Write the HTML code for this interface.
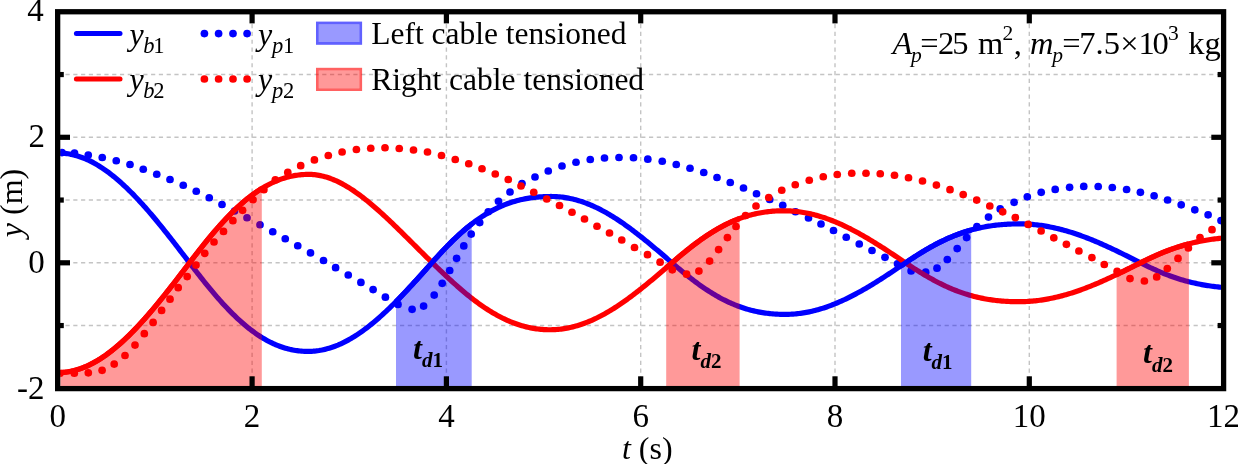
<!DOCTYPE html>
<html><head><meta charset="utf-8"><style>
html,body{margin:0;padding:0;background:#fff;}
svg{display:block;will-change:transform;}
text{font-family:"Liberation Serif",serif;}
</style></head><body>
<svg width="1238" height="464" viewBox="0 0 1238 464">
<defs><clipPath id="pa"><rect x="60.3" y="14.4" width="1160.8" height="371.5"/></clipPath></defs>
<rect width="1238" height="464" fill="#fff"/>
<g stroke="#c4c4c4" stroke-width="1.4" fill="none"><g stroke-dasharray="4.2 3.58" stroke-dashoffset="2.6"><line x1="60.3" y1="74.55" x2="1221" y2="74.55"/><line x1="60.3" y1="137.30" x2="1221" y2="137.30"/><line x1="60.3" y1="200.05" x2="1221" y2="200.05"/><line x1="60.3" y1="262.80" x2="1221" y2="262.80"/><line x1="60.3" y1="325.55" x2="1221" y2="325.55"/></g><g stroke-dasharray="4.2 3.63" stroke-dashoffset="6.16"><line x1="252.10" y1="14.5" x2="252.10" y2="385.8"/><line x1="446.40" y1="14.5" x2="446.40" y2="385.8"/><line x1="640.70" y1="14.5" x2="640.70" y2="385.8"/><line x1="835.00" y1="14.5" x2="835.00" y2="385.8"/><line x1="1029.30" y1="14.5" x2="1029.30" y2="385.8"/></g></g>
<g clip-path="url(#pa)" fill="none" stroke-width="5.2" stroke-linejoin="round">
<path d="M57.80,152.99 L59.26,153.00 L60.72,153.05 L62.18,153.14 L63.64,153.25 L65.10,153.40 L66.55,153.59 L68.01,153.80 L69.47,154.05 L70.93,154.33 L72.39,154.65 L73.85,154.99 L75.31,155.37 L76.77,155.78 L78.23,156.23 L79.69,156.71 L81.15,157.21 L82.60,157.76 L84.06,158.33 L85.52,158.93 L86.98,159.57 L88.44,160.24 L89.90,160.93 L91.36,161.66 L92.82,162.42 L94.28,163.21 L95.74,164.03 L97.19,164.88 L98.65,165.76 L100.11,166.67 L101.57,167.61 L103.03,168.58 L104.49,169.57 L105.95,170.59 L107.41,171.65 L108.87,172.72 L110.33,173.83 L111.79,174.96 L113.24,176.12 L114.70,177.31 L116.16,178.52 L117.62,179.76 L119.08,181.02 L120.54,182.31 L122.00,183.62 L123.46,184.96 L124.92,186.32 L126.38,187.70 L127.84,189.10 L129.29,190.53 L130.75,191.98 L132.21,193.45 L133.67,194.94 L135.13,196.46 L136.59,197.99 L138.05,199.54 L139.51,201.11 L140.97,202.70 L142.43,204.31 L143.89,205.93 L145.34,207.58 L146.80,209.24 L148.26,210.91 L149.72,212.60 L151.18,214.31 L152.64,216.03 L154.10,217.77 L155.56,219.52 L157.02,221.28 L158.48,223.05 L159.94,224.84 L161.39,226.64 L162.85,228.45 L164.31,230.27 L165.77,232.10 L167.23,233.94 L168.69,235.78 L170.15,237.64 L171.61,239.50 L173.07,241.37 L174.53,243.25 L175.98,245.13 L177.44,247.02 L178.90,248.92 L180.36,250.81 L181.82,252.71 L183.28,254.62 L184.74,256.52 L186.20,258.43 L187.66,260.34 L189.12,262.25 L190.58,264.16 L192.03,266.06 L193.49,267.96 L194.95,269.85 L196.41,271.74 L197.87,273.61 L199.33,275.47 L200.79,277.33 L202.25,279.17 L203.71,281.00 L205.17,282.82 L206.63,284.62 L208.08,286.41 L209.54,288.19 L211.00,289.95 L212.46,291.69 L213.92,293.42 L215.38,295.12 L216.84,296.82 L218.30,298.49 L219.76,300.14 L221.22,301.77 L222.68,303.38 L224.13,304.98 L225.59,306.54 L227.05,308.09 L228.51,309.62 L229.97,311.12 L231.43,312.60 L232.89,314.05 L234.35,315.48 L235.81,316.89 L237.27,318.27 L238.73,319.62 L240.18,320.95 L241.64,322.25 L243.10,323.53 L244.56,324.78 L246.02,326.00 L247.48,327.20 L248.94,328.36 L250.40,329.50 L251.86,330.62 L253.32,331.70 L254.77,332.76 L256.23,333.78 L257.69,334.78 L259.15,335.75 L260.61,336.69 L262.07,337.60 L263.53,338.48 L264.99,339.33 L266.45,340.16 L267.91,340.95 L269.37,341.71 L270.82,342.45 L272.28,343.15 L273.74,343.83 L275.20,344.48 L276.66,345.09 L278.12,345.68 L279.58,346.24 L281.04,346.77 L282.50,347.27 L283.96,347.74 L285.42,348.18 L286.87,348.59 L288.33,348.97 L289.79,349.33 L291.25,349.65 L292.71,349.95 L294.17,350.22 L295.63,350.46 L297.09,350.67 L298.55,350.86 L300.01,351.02 L301.47,351.15 L302.92,351.25 L304.38,351.33 L305.84,351.38 L307.30,351.40 L308.76,351.40 L310.22,351.36 L311.68,351.30 L313.14,351.21 L314.60,351.08 L316.06,350.93 L317.52,350.74 L318.97,350.53 L320.43,350.28 L321.89,350.01 L323.35,349.70 L324.81,349.37 L326.27,349.00 L327.73,348.61 L329.19,348.19 L330.65,347.74 L332.11,347.26 L333.56,346.75 L335.02,346.21 L336.48,345.64 L337.94,345.05 L339.40,344.42 L340.86,343.77 L342.32,343.09 L343.78,342.39 L345.24,341.65 L346.70,340.89 L348.16,340.10 L349.61,339.29 L351.07,338.45 L352.53,337.58 L353.99,336.69 L355.45,335.78 L356.91,334.84 L358.37,333.87 L359.83,332.88 L361.29,331.86 L362.75,330.83 L364.21,329.77 L365.66,328.68 L367.12,327.58 L368.58,326.45 L370.04,325.30 L371.50,324.12 L372.96,322.93 L374.42,321.72 L375.88,320.48 L377.34,319.23 L378.80,317.96 L380.26,316.67 L381.71,315.36 L383.17,314.03 L384.63,312.68 L386.09,311.32 L387.55,309.94 L389.01,308.55 L390.47,307.14 L391.93,305.71 L393.39,304.27 L394.85,302.82 L396.31,301.35 L397.76,299.87 L399.22,298.37 L400.68,296.87 L402.14,295.35 L403.60,293.82 L405.06,292.28 L406.52,290.73 L407.98,289.17 L409.44,287.60 L410.90,286.03 L412.35,284.44 L413.81,282.85 L415.27,281.25 L416.73,279.64 L418.19,278.03 L419.65,276.42 L421.11,274.80 L422.57,273.17 L424.03,271.54 L425.49,269.91 L426.95,268.28 L428.40,266.64 L429.86,265.00 L431.32,263.37 L432.78,261.73 L434.24,260.10 L435.70,258.49 L437.16,256.88 L438.62,255.29 L440.08,253.71 L441.54,252.14 L443.00,250.59 L444.45,249.06 L445.91,247.54 L447.37,246.04 L448.83,244.55 L450.29,243.09 L451.75,241.64 L453.21,240.21 L454.67,238.81 L456.13,237.42 L457.59,236.05 L459.05,234.71 L460.50,233.39 L461.96,232.09 L463.42,230.81 L464.88,229.56 L466.34,228.32 L467.80,227.12 L469.26,225.93 L470.72,224.77 L472.18,223.64 L473.64,222.53 L475.10,221.44 L476.55,220.38 L478.01,219.34 L479.47,218.33 L480.93,217.35 L482.39,216.38 L483.85,215.45 L485.31,214.53 L486.77,213.65 L488.23,212.79 L489.69,211.95 L491.14,211.14 L492.60,210.35 L494.06,209.59 L495.52,208.85 L496.98,208.13 L498.44,207.44 L499.90,206.78 L501.36,206.13 L502.82,205.52 L504.28,204.92 L505.74,204.35 L507.19,203.80 L508.65,203.27 L510.11,202.77 L511.57,202.29 L513.03,201.83 L514.49,201.39 L515.95,200.97 L517.41,200.57 L518.87,200.20 L520.33,199.84 L521.79,199.51 L523.24,199.19 L524.70,198.90 L526.16,198.62 L527.62,198.36 L529.08,198.12 L530.54,197.90 L532.00,197.69 L533.46,197.51 L534.92,197.34 L536.38,197.18 L537.84,197.04 L539.29,196.92 L540.75,196.82 L542.21,196.72 L543.67,196.65 L545.13,196.59 L546.59,196.54 L548.05,196.50 L549.51,196.48 L550.97,196.47 L552.43,196.48 L553.89,196.51 L555.34,196.57 L556.80,196.65 L558.26,196.75 L559.72,196.88 L561.18,197.03 L562.64,197.20 L564.10,197.40 L565.56,197.62 L567.02,197.87 L568.48,198.14 L569.93,198.43 L571.39,198.74 L572.85,199.08 L574.31,199.44 L575.77,199.83 L577.23,200.23 L578.69,200.66 L580.15,201.11 L581.61,201.59 L583.07,202.08 L584.53,202.60 L585.98,203.14 L587.44,203.70 L588.90,204.28 L590.36,204.88 L591.82,205.51 L593.28,206.15 L594.74,206.82 L596.20,207.50 L597.66,208.21 L599.12,208.93 L600.58,209.68 L602.03,210.44 L603.49,211.22 L604.95,212.02 L606.41,212.84 L607.87,213.68 L609.33,214.53 L610.79,215.41 L612.25,216.29 L613.71,217.20 L615.17,218.12 L616.63,219.06 L618.08,220.02 L619.54,220.99 L621.00,221.97 L622.46,222.97 L623.92,223.98 L625.38,225.01 L626.84,226.05 L628.30,227.11 L629.76,228.17 L631.22,229.25 L632.68,230.35 L634.13,231.45 L635.59,232.56 L637.05,233.69 L638.51,234.83 L639.97,235.97 L641.43,237.13 L642.89,238.29 L644.35,239.47 L645.81,240.65 L647.27,241.84 L648.72,243.04 L650.18,244.24 L651.64,245.46 L653.10,246.67 L654.56,247.90 L656.02,249.13 L657.48,250.36 L658.94,251.60 L660.40,252.84 L661.86,254.09 L663.32,255.34 L664.77,256.59 L666.23,257.84 L667.69,259.10 L669.15,260.36 L670.61,261.62 L672.07,262.88 L673.53,264.13 L674.99,265.38 L676.45,266.62 L677.91,267.86 L679.37,269.08 L680.82,270.30 L682.28,271.51 L683.74,272.71 L685.20,273.89 L686.66,275.07 L688.12,276.23 L689.58,277.38 L691.04,278.52 L692.50,279.64 L693.96,280.75 L695.42,281.85 L696.87,282.93 L698.33,283.99 L699.79,285.04 L701.25,286.08 L702.71,287.09 L704.17,288.09 L705.63,289.08 L707.09,290.04 L708.55,290.99 L710.01,291.92 L711.47,292.83 L712.92,293.72 L714.38,294.60 L715.84,295.46 L717.30,296.29 L718.76,297.11 L720.22,297.91 L721.68,298.69 L723.14,299.45 L724.60,300.19 L726.06,300.91 L727.51,301.61 L728.97,302.29 L730.43,302.96 L731.89,303.60 L733.35,304.22 L734.81,304.82 L736.27,305.41 L737.73,305.97 L739.19,306.51 L740.65,307.04 L742.11,307.54 L743.56,308.03 L745.02,308.49 L746.48,308.94 L747.94,309.37 L749.40,309.78 L750.86,310.17 L752.32,310.54 L753.78,310.89 L755.24,311.23 L756.70,311.54 L758.16,311.84 L759.61,312.12 L761.07,312.39 L762.53,312.63 L763.99,312.86 L765.45,313.07 L766.91,313.27 L768.37,313.44 L769.83,313.61 L771.29,313.75 L772.75,313.88 L774.21,314.00 L775.66,314.10 L777.12,314.18 L778.58,314.25 L780.04,314.30 L781.50,314.34 L782.96,314.37 L784.42,314.38 L785.88,314.38 L787.34,314.36 L788.80,314.32 L790.26,314.26 L791.71,314.18 L793.17,314.09 L794.63,313.97 L796.09,313.84 L797.55,313.69 L799.01,313.52 L800.47,313.33 L801.93,313.13 L803.39,312.90 L804.85,312.66 L806.30,312.40 L807.76,312.12 L809.22,311.83 L810.68,311.51 L812.14,311.18 L813.60,310.83 L815.06,310.47 L816.52,310.08 L817.98,309.68 L819.44,309.27 L820.90,308.83 L822.35,308.38 L823.81,307.91 L825.27,307.43 L826.73,306.93 L828.19,306.42 L829.65,305.88 L831.11,305.34 L832.57,304.77 L834.03,304.20 L835.49,303.61 L836.95,303.00 L838.40,302.38 L839.86,301.74 L841.32,301.09 L842.78,300.43 L844.24,299.75 L845.70,299.06 L847.16,298.35 L848.62,297.64 L850.08,296.91 L851.54,296.17 L853.00,295.41 L854.45,294.65 L855.91,293.87 L857.37,293.08 L858.83,292.28 L860.29,291.47 L861.75,290.65 L863.21,289.82 L864.67,288.98 L866.13,288.13 L867.59,287.27 L869.05,286.41 L870.50,285.53 L871.96,284.65 L873.42,283.75 L874.88,282.85 L876.34,281.95 L877.80,281.03 L879.26,280.11 L880.72,279.19 L882.18,278.25 L883.64,277.32 L885.09,276.37 L886.55,275.42 L888.01,274.47 L889.47,273.51 L890.93,272.55 L892.39,271.59 L893.85,270.62 L895.31,269.65 L896.77,268.68 L898.23,267.70 L899.69,266.72 L901.14,265.75 L902.60,264.77 L904.06,263.79 L905.52,262.81 L906.98,261.83 L908.44,260.86 L909.90,259.89 L911.36,258.93 L912.82,257.98 L914.28,257.03 L915.74,256.10 L917.19,255.17 L918.65,254.26 L920.11,253.35 L921.57,252.45 L923.03,251.56 L924.49,250.69 L925.95,249.83 L927.41,248.97 L928.87,248.13 L930.33,247.31 L931.79,246.49 L933.24,245.69 L934.70,244.90 L936.16,244.13 L937.62,243.37 L939.08,242.62 L940.54,241.89 L942.00,241.17 L943.46,240.47 L944.92,239.78 L946.38,239.11 L947.84,238.45 L949.29,237.81 L950.75,237.18 L952.21,236.57 L953.67,235.97 L955.13,235.39 L956.59,234.82 L958.05,234.27 L959.51,233.74 L960.97,233.22 L962.43,232.71 L963.88,232.22 L965.34,231.75 L966.80,231.29 L968.26,230.85 L969.72,230.42 L971.18,230.01 L972.64,229.61 L974.10,229.23 L975.56,228.86 L977.02,228.50 L978.48,228.16 L979.93,227.84 L981.39,227.53 L982.85,227.23 L984.31,226.95 L985.77,226.68 L987.23,226.43 L988.69,226.19 L990.15,225.96 L991.61,225.75 L993.07,225.54 L994.53,225.36 L995.98,225.18 L997.44,225.01 L998.90,224.86 L1000.36,224.72 L1001.82,224.60 L1003.28,224.48 L1004.74,224.37 L1006.20,224.28 L1007.66,224.20 L1009.12,224.12 L1010.58,224.06 L1012.03,224.01 L1013.49,223.97 L1014.95,223.94 L1016.41,223.91 L1017.87,223.90 L1019.33,223.90 L1020.79,223.90 L1022.25,223.92 L1023.71,223.96 L1025.17,224.01 L1026.63,224.07 L1028.08,224.15 L1029.54,224.24 L1031.00,224.34 L1032.46,224.46 L1033.92,224.59 L1035.38,224.74 L1036.84,224.90 L1038.30,225.07 L1039.76,225.25 L1041.22,225.45 L1042.67,225.67 L1044.13,225.89 L1045.59,226.13 L1047.05,226.38 L1048.51,226.65 L1049.97,226.93 L1051.43,227.22 L1052.89,227.52 L1054.35,227.84 L1055.81,228.17 L1057.27,228.51 L1058.72,228.86 L1060.18,229.23 L1061.64,229.61 L1063.10,229.99 L1064.56,230.40 L1066.02,230.81 L1067.48,231.23 L1068.94,231.67 L1070.40,232.12 L1071.86,232.57 L1073.32,233.04 L1074.77,233.52 L1076.23,234.01 L1077.69,234.51 L1079.15,235.02 L1080.61,235.54 L1082.07,236.07 L1083.53,236.61 L1084.99,237.16 L1086.45,237.71 L1087.91,238.28 L1089.37,238.86 L1090.82,239.44 L1092.28,240.03 L1093.74,240.63 L1095.20,241.24 L1096.66,241.86 L1098.12,242.48 L1099.58,243.11 L1101.04,243.75 L1102.50,244.39 L1103.96,245.04 L1105.42,245.70 L1106.87,246.37 L1108.33,247.03 L1109.79,247.71 L1111.25,248.39 L1112.71,249.08 L1114.17,249.77 L1115.63,250.46 L1117.09,251.16 L1118.55,251.87 L1120.01,252.57 L1121.46,253.28 L1122.92,254.00 L1124.38,254.72 L1125.84,255.44 L1127.30,256.16 L1128.76,256.89 L1130.22,257.62 L1131.68,258.34 L1133.14,259.08 L1134.60,259.81 L1136.06,260.54 L1137.51,261.28 L1138.97,262.01 L1140.43,262.75 L1141.89,263.48 L1143.35,264.21 L1144.81,264.93 L1146.27,265.64 L1147.73,266.34 L1149.19,267.04 L1150.65,267.73 L1152.11,268.41 L1153.56,269.08 L1155.02,269.74 L1156.48,270.39 L1157.94,271.03 L1159.40,271.65 L1160.86,272.27 L1162.32,272.88 L1163.78,273.47 L1165.24,274.05 L1166.70,274.62 L1168.16,275.18 L1169.61,275.73 L1171.07,276.26 L1172.53,276.78 L1173.99,277.29 L1175.45,277.79 L1176.91,278.27 L1178.37,278.74 L1179.83,279.20 L1181.29,279.64 L1182.75,280.08 L1184.21,280.50 L1185.66,280.90 L1187.12,281.30 L1188.58,281.68 L1190.04,282.05 L1191.50,282.41 L1192.96,282.75 L1194.42,283.09 L1195.88,283.41 L1197.34,283.72 L1198.80,284.02 L1200.25,284.30 L1201.71,284.58 L1203.17,284.84 L1204.63,285.10 L1206.09,285.34 L1207.55,285.57 L1209.01,285.79 L1210.47,286.01 L1211.93,286.21 L1213.39,286.40 L1214.85,286.58 L1216.30,286.76 L1217.76,286.92 L1219.22,287.07 L1220.68,287.22 L1222.14,287.36 L1223.60,287.49" stroke="#0000ff"/>
<g fill="#0000ff" stroke="none"><circle cx="62.00" cy="152.60" r="3.85"/><circle cx="74.50" cy="153.00" r="3.85"/><circle cx="88.25" cy="155.00" r="3.85"/><circle cx="102.25" cy="157.50" r="3.85"/><circle cx="116.25" cy="160.75" r="3.85"/><circle cx="130.00" cy="164.50" r="3.85"/><circle cx="143.25" cy="169.25" r="3.85"/><circle cx="156.75" cy="174.25" r="3.85"/><circle cx="170.00" cy="179.50" r="3.85"/><circle cx="183.25" cy="185.25" r="3.85"/><circle cx="196.25" cy="191.25" r="3.85"/><circle cx="209.25" cy="197.75" r="3.85"/><circle cx="222.00" cy="204.50" r="3.85"/><circle cx="234.50" cy="211.00" r="3.85"/><circle cx="247.00" cy="217.75" r="3.85"/><circle cx="260.00" cy="224.75" r="3.85"/><circle cx="272.75" cy="231.75" r="3.85"/><circle cx="285.25" cy="238.75" r="3.85"/><circle cx="297.75" cy="245.75" r="3.85"/><circle cx="310.50" cy="252.90" r="3.85"/><circle cx="323.50" cy="260.50" r="3.85"/><circle cx="335.60" cy="267.70" r="3.85"/><circle cx="348.25" cy="275.00" r="3.85"/><circle cx="360.90" cy="282.40" r="3.85"/><circle cx="373.10" cy="289.60" r="3.85"/><circle cx="385.40" cy="297.20" r="3.85"/><circle cx="398.00" cy="304.40" r="3.85"/><circle cx="412.10" cy="309.30" r="3.85"/><circle cx="423.60" cy="306.10" r="3.85"/><circle cx="434.20" cy="295.10" r="3.85"/><circle cx="442.20" cy="283.30" r="3.85"/><circle cx="449.70" cy="270.50" r="3.85"/><circle cx="456.60" cy="258.30" r="3.85"/><circle cx="463.80" cy="245.90" r="3.85"/><circle cx="471.20" cy="234.10" r="3.85"/><circle cx="479.70" cy="222.60" r="3.85"/><circle cx="488.25" cy="211.75" r="3.85"/><circle cx="498.50" cy="201.25" r="3.85"/><circle cx="510.00" cy="192.00" r="3.85"/><circle cx="522.00" cy="183.50" r="3.85"/><circle cx="535.00" cy="177.00" r="3.85"/><circle cx="548.25" cy="171.00" r="3.85"/><circle cx="562.00" cy="166.00" r="3.85"/><circle cx="576.00" cy="162.25" r="3.85"/><circle cx="590.25" cy="159.50" r="3.85"/><circle cx="604.50" cy="158.00" r="3.85"/><circle cx="619.00" cy="157.50" r="3.85"/><circle cx="633.50" cy="157.75" r="3.85"/><circle cx="647.80" cy="159.20" r="3.85"/><circle cx="662.25" cy="161.25" r="3.85"/><circle cx="676.25" cy="164.50" r="3.85"/><circle cx="690.00" cy="168.25" r="3.85"/><circle cx="703.75" cy="172.50" r="3.85"/><circle cx="717.00" cy="177.50" r="3.85"/><circle cx="730.25" cy="182.50" r="3.85"/><circle cx="743.50" cy="188.00" r="3.85"/><circle cx="756.50" cy="193.75" r="3.85"/><circle cx="769.75" cy="199.50" r="3.85"/><circle cx="782.75" cy="205.25" r="3.85"/><circle cx="795.50" cy="211.75" r="3.85"/><circle cx="808.50" cy="218.00" r="3.85"/><circle cx="821.00" cy="224.00" r="3.85"/><circle cx="833.50" cy="230.50" r="3.85"/><circle cx="846.25" cy="237.25" r="3.85"/><circle cx="859.25" cy="244.00" r="3.85"/><circle cx="872.00" cy="250.50" r="3.85"/><circle cx="885.00" cy="257.30" r="3.85"/><circle cx="897.50" cy="263.80" r="3.85"/><circle cx="911.10" cy="270.90" r="3.85"/><circle cx="925.70" cy="272.20" r="3.85"/><circle cx="937.00" cy="268.20" r="3.85"/><circle cx="947.30" cy="259.50" r="3.85"/><circle cx="957.20" cy="248.60" r="3.85"/><circle cx="966.60" cy="237.60" r="3.85"/><circle cx="976.90" cy="226.70" r="3.85"/><circle cx="988.50" cy="217.10" r="3.85"/><circle cx="1000.20" cy="208.90" r="3.85"/><circle cx="1014.10" cy="202.30" r="3.85"/><circle cx="1027.30" cy="196.80" r="3.85"/><circle cx="1041.20" cy="192.30" r="3.85"/><circle cx="1055.20" cy="189.40" r="3.85"/><circle cx="1069.60" cy="187.30" r="3.85"/><circle cx="1083.75" cy="186.40" r="3.85"/><circle cx="1098.20" cy="186.50" r="3.85"/><circle cx="1112.30" cy="187.50" r="3.85"/><circle cx="1126.60" cy="189.50" r="3.85"/><circle cx="1140.40" cy="192.30" r="3.85"/><circle cx="1154.10" cy="195.80" r="3.85"/><circle cx="1167.60" cy="200.00" r="3.85"/><circle cx="1181.20" cy="204.80" r="3.85"/><circle cx="1194.80" cy="209.80" r="3.85"/><circle cx="1208.10" cy="214.80" r="3.85"/><circle cx="1221.00" cy="220.60" r="3.85"/></g>
<path d="M57.80,372.61 L59.26,372.60 L60.72,372.55 L62.18,372.46 L63.64,372.35 L65.10,372.20 L66.55,372.01 L68.01,371.80 L69.47,371.55 L70.93,371.27 L72.39,370.95 L73.85,370.61 L75.31,370.23 L76.77,369.82 L78.23,369.37 L79.69,368.89 L81.15,368.39 L82.60,367.84 L84.06,367.27 L85.52,366.67 L86.98,366.03 L88.44,365.36 L89.90,364.67 L91.36,363.94 L92.82,363.18 L94.28,362.39 L95.74,361.57 L97.19,360.72 L98.65,359.84 L100.11,358.93 L101.57,357.99 L103.03,357.02 L104.49,356.03 L105.95,355.01 L107.41,353.95 L108.87,352.88 L110.33,351.77 L111.79,350.64 L113.24,349.48 L114.70,348.29 L116.16,347.08 L117.62,345.84 L119.08,344.58 L120.54,343.29 L122.00,341.98 L123.46,340.64 L124.92,339.28 L126.38,337.90 L127.84,336.50 L129.29,335.07 L130.75,333.62 L132.21,332.15 L133.67,330.66 L135.13,329.14 L136.59,327.61 L138.05,326.06 L139.51,324.49 L140.97,322.90 L142.43,321.29 L143.89,319.67 L145.34,318.02 L146.80,316.36 L148.26,314.69 L149.72,313.00 L151.18,311.29 L152.64,309.57 L154.10,307.83 L155.56,306.08 L157.02,304.32 L158.48,302.55 L159.94,300.76 L161.39,298.96 L162.85,297.15 L164.31,295.33 L165.77,293.50 L167.23,291.66 L168.69,289.82 L170.15,287.96 L171.61,286.10 L173.07,284.23 L174.53,282.35 L175.98,280.47 L177.44,278.58 L178.90,276.68 L180.36,274.79 L181.82,272.89 L183.28,270.98 L184.74,269.08 L186.20,267.17 L187.66,265.26 L189.12,263.35 L190.58,261.44 L192.03,259.54 L193.49,257.64 L194.95,255.75 L196.41,253.87 L197.87,252.00 L199.33,250.13 L200.79,248.28 L202.25,246.44 L203.71,244.62 L205.17,242.80 L206.63,241.00 L208.08,239.22 L209.54,237.45 L211.00,235.69 L212.46,233.95 L213.92,232.23 L215.38,230.53 L216.84,228.85 L218.30,227.18 L219.76,225.54 L221.22,223.91 L222.68,222.31 L224.13,220.72 L225.59,219.16 L227.05,217.62 L228.51,216.10 L229.97,214.61 L231.43,213.14 L232.89,211.69 L234.35,210.27 L235.81,208.87 L237.27,207.50 L238.73,206.16 L240.18,204.84 L241.64,203.54 L243.10,202.27 L244.56,201.03 L246.02,199.82 L247.48,198.63 L248.94,197.47 L250.40,196.34 L251.86,195.23 L253.32,194.16 L254.77,193.11 L256.23,192.09 L257.69,191.10 L259.15,190.14 L260.61,189.20 L262.07,188.30 L263.53,187.42 L264.99,186.57 L266.45,185.76 L267.91,184.97 L269.37,184.21 L270.82,183.47 L272.28,182.77 L273.74,182.10 L275.20,181.45 L276.66,180.84 L278.12,180.25 L279.58,179.69 L281.04,179.16 L282.50,178.66 L283.96,178.19 L285.42,177.75 L286.87,177.33 L288.33,176.95 L289.79,176.59 L291.25,176.26 L292.71,175.95 L294.17,175.68 L295.63,175.43 L297.09,175.21 L298.55,175.01 L300.01,174.84 L301.47,174.70 L302.92,174.59 L304.38,174.50 L305.84,174.44 L307.30,174.40 L308.76,174.39 L310.22,174.41 L311.68,174.46 L313.14,174.56 L314.60,174.70 L316.06,174.87 L317.52,175.08 L318.97,175.33 L320.43,175.61 L321.89,175.93 L323.35,176.28 L324.81,176.67 L326.27,177.10 L327.73,177.55 L329.19,178.05 L330.65,178.57 L332.11,179.13 L333.56,179.72 L335.02,180.34 L336.48,180.99 L337.94,181.67 L339.40,182.39 L340.86,183.13 L342.32,183.90 L343.78,184.70 L345.24,185.53 L346.70,186.38 L348.16,187.26 L349.61,188.17 L351.07,189.10 L352.53,190.05 L353.99,191.03 L355.45,192.04 L356.91,193.06 L358.37,194.11 L359.83,195.18 L361.29,196.27 L362.75,197.38 L364.21,198.52 L365.66,199.67 L367.12,200.83 L368.58,202.02 L370.04,203.23 L371.50,204.45 L372.96,205.69 L374.42,206.94 L375.88,208.21 L377.34,209.49 L378.80,210.78 L380.26,212.09 L381.71,213.41 L383.17,214.75 L384.63,216.09 L386.09,217.45 L387.55,218.81 L389.01,220.19 L390.47,221.57 L391.93,222.96 L393.39,224.36 L394.85,225.77 L396.31,227.19 L397.76,228.61 L399.22,230.03 L400.68,231.46 L402.14,232.90 L403.60,234.34 L405.06,235.78 L406.52,237.23 L407.98,238.68 L409.44,240.13 L410.90,241.58 L412.35,243.04 L413.81,244.49 L415.27,245.95 L416.73,247.40 L418.19,248.86 L419.65,250.31 L421.11,251.76 L422.57,253.21 L424.03,254.65 L425.49,256.10 L426.95,257.54 L428.40,258.97 L429.86,260.41 L431.32,261.83 L432.78,263.26 L434.24,264.68 L435.70,266.09 L437.16,267.50 L438.62,268.91 L440.08,270.31 L441.54,271.70 L443.00,273.09 L444.45,274.47 L445.91,275.84 L447.37,277.21 L448.83,278.56 L450.29,279.90 L451.75,281.24 L453.21,282.56 L454.67,283.88 L456.13,285.18 L457.59,286.47 L459.05,287.74 L460.50,289.01 L461.96,290.26 L463.42,291.49 L464.88,292.71 L466.34,293.92 L467.80,295.11 L469.26,296.29 L470.72,297.44 L472.18,298.59 L473.64,299.71 L475.10,300.82 L476.55,301.91 L478.01,302.99 L479.47,304.04 L480.93,305.08 L482.39,306.10 L483.85,307.09 L485.31,308.07 L486.77,309.03 L488.23,309.97 L489.69,310.89 L491.14,311.79 L492.60,312.67 L494.06,313.53 L495.52,314.37 L496.98,315.18 L498.44,315.98 L499.90,316.75 L501.36,317.50 L502.82,318.23 L504.28,318.94 L505.74,319.62 L507.19,320.29 L508.65,320.93 L510.11,321.55 L511.57,322.14 L513.03,322.72 L514.49,323.27 L515.95,323.80 L517.41,324.30 L518.87,324.79 L520.33,325.25 L521.79,325.68 L523.24,326.10 L524.70,326.49 L526.16,326.86 L527.62,327.21 L529.08,327.54 L530.54,327.84 L532.00,328.12 L533.46,328.38 L534.92,328.61 L536.38,328.82 L537.84,329.01 L539.29,329.18 L540.75,329.33 L542.21,329.45 L543.67,329.56 L545.13,329.64 L546.59,329.70 L548.05,329.74 L549.51,329.75 L550.97,329.75 L552.43,329.72 L553.89,329.67 L555.34,329.59 L556.80,329.49 L558.26,329.37 L559.72,329.23 L561.18,329.06 L562.64,328.86 L564.10,328.65 L565.56,328.41 L567.02,328.15 L568.48,327.86 L569.93,327.55 L571.39,327.22 L572.85,326.87 L574.31,326.49 L575.77,326.09 L577.23,325.67 L578.69,325.23 L580.15,324.76 L581.61,324.27 L583.07,323.77 L584.53,323.24 L585.98,322.68 L587.44,322.11 L588.90,321.52 L590.36,320.90 L591.82,320.27 L593.28,319.61 L594.74,318.94 L596.20,318.24 L597.66,317.53 L599.12,316.79 L600.58,316.04 L602.03,315.27 L603.49,314.48 L604.95,313.67 L606.41,312.84 L607.87,312.00 L609.33,311.13 L610.79,310.26 L612.25,309.36 L613.71,308.45 L615.17,307.52 L616.63,306.58 L618.08,305.62 L619.54,304.64 L621.00,303.65 L622.46,302.65 L623.92,301.63 L625.38,300.60 L626.84,299.56 L628.30,298.50 L629.76,297.43 L631.22,296.35 L632.68,295.25 L634.13,294.15 L635.59,293.03 L637.05,291.90 L638.51,290.76 L639.97,289.62 L641.43,288.46 L642.89,287.29 L644.35,286.12 L645.81,284.94 L647.27,283.75 L648.72,282.55 L650.18,281.34 L651.64,280.13 L653.10,278.91 L654.56,277.69 L656.02,276.46 L657.48,275.23 L658.94,273.99 L660.40,272.75 L661.86,271.50 L663.32,270.25 L664.77,269.00 L666.23,267.75 L667.69,266.50 L669.15,265.24 L670.61,263.98 L672.07,262.72 L673.53,261.47 L674.99,260.22 L676.45,258.98 L677.91,257.74 L679.37,256.52 L680.82,255.30 L682.28,254.09 L683.74,252.89 L685.20,251.70 L686.66,250.52 L688.12,249.35 L689.58,248.19 L691.04,247.05 L692.50,245.92 L693.96,244.80 L695.42,243.70 L696.87,242.61 L698.33,241.54 L699.79,240.48 L701.25,239.44 L702.71,238.41 L704.17,237.40 L705.63,236.41 L707.09,235.43 L708.55,234.47 L710.01,233.53 L711.47,232.61 L712.92,231.70 L714.38,230.82 L715.84,229.95 L717.30,229.10 L718.76,228.27 L720.22,227.46 L721.68,226.66 L723.14,225.89 L724.60,225.14 L726.06,224.40 L727.51,223.69 L728.97,222.99 L730.43,222.32 L731.89,221.67 L733.35,221.03 L734.81,220.42 L736.27,219.82 L737.73,219.25 L739.19,218.69 L740.65,218.16 L742.11,217.64 L743.56,217.14 L745.02,216.67 L746.48,216.21 L747.94,215.78 L749.40,215.36 L750.86,214.96 L752.32,214.58 L753.78,214.22 L755.24,213.88 L756.70,213.56 L758.16,213.26 L759.61,212.97 L761.07,212.71 L762.53,212.46 L763.99,212.23 L765.45,212.02 L766.91,211.82 L768.37,211.64 L769.83,211.48 L771.29,211.34 L772.75,211.21 L774.21,211.10 L775.66,211.01 L777.12,210.93 L778.58,210.87 L780.04,210.83 L781.50,210.80 L782.96,210.78 L784.42,210.78 L785.88,210.80 L787.34,210.84 L788.80,210.89 L790.26,210.97 L791.71,211.06 L793.17,211.17 L794.63,211.30 L796.09,211.44 L797.55,211.61 L799.01,211.79 L800.47,211.99 L801.93,212.21 L803.39,212.45 L804.85,212.70 L806.30,212.97 L807.76,213.26 L809.22,213.57 L810.68,213.90 L812.14,214.24 L813.60,214.60 L815.06,214.97 L816.52,215.37 L817.98,215.78 L819.44,216.20 L820.90,216.65 L822.35,217.11 L823.81,217.58 L825.27,218.07 L826.73,218.58 L828.19,219.11 L829.65,219.64 L831.11,220.20 L832.57,220.77 L834.03,221.35 L835.49,221.95 L836.95,222.56 L838.40,223.19 L839.86,223.83 L841.32,224.49 L842.78,225.16 L844.24,225.84 L845.70,226.53 L847.16,227.24 L848.62,227.96 L850.08,228.69 L851.54,229.44 L853.00,230.20 L854.45,230.96 L855.91,231.74 L857.37,232.53 L858.83,233.34 L860.29,234.15 L861.75,234.97 L863.21,235.80 L864.67,236.64 L866.13,237.49 L867.59,238.35 L869.05,239.22 L870.50,240.10 L871.96,240.98 L873.42,241.87 L874.88,242.77 L876.34,243.68 L877.80,244.59 L879.26,245.51 L880.72,246.44 L882.18,247.37 L883.64,248.31 L885.09,249.25 L886.55,250.20 L888.01,251.15 L889.47,252.11 L890.93,253.07 L892.39,254.03 L893.85,254.99 L895.31,255.96 L896.77,256.93 L898.23,257.91 L899.69,258.88 L901.14,259.86 L902.60,260.84 L904.06,261.82 L905.52,262.79 L906.98,263.77 L908.44,264.74 L909.90,265.71 L911.36,266.66 L912.82,267.61 L914.28,268.56 L915.74,269.49 L917.19,270.42 L918.65,271.33 L920.11,272.24 L921.57,273.14 L923.03,274.02 L924.49,274.90 L925.95,275.76 L927.41,276.61 L928.87,277.45 L930.33,278.28 L931.79,279.10 L933.24,279.90 L934.70,280.69 L936.16,281.46 L937.62,282.22 L939.08,282.97 L940.54,283.70 L942.00,284.42 L943.46,285.13 L944.92,285.82 L946.38,286.49 L947.84,287.15 L949.29,287.80 L950.75,288.43 L952.21,289.04 L953.67,289.64 L955.13,290.22 L956.59,290.79 L958.05,291.34 L959.51,291.88 L960.97,292.40 L962.43,292.91 L963.88,293.40 L965.34,293.88 L966.80,294.34 L968.26,294.78 L969.72,295.21 L971.18,295.62 L972.64,296.02 L974.10,296.41 L975.56,296.78 L977.02,297.13 L978.48,297.47 L979.93,297.80 L981.39,298.11 L982.85,298.41 L984.31,298.69 L985.77,298.96 L987.23,299.21 L988.69,299.45 L990.15,299.68 L991.61,299.89 L993.07,300.10 L994.53,300.28 L995.98,300.46 L997.44,300.62 L998.90,300.77 L1000.36,300.91 L1001.82,301.04 L1003.28,301.15 L1004.74,301.26 L1006.20,301.35 L1007.66,301.43 L1009.12,301.50 L1010.58,301.56 L1012.03,301.61 L1013.49,301.65 L1014.95,301.68 L1016.41,301.69 L1017.87,301.70 L1019.33,301.70 L1020.79,301.69 L1022.25,301.66 L1023.71,301.62 L1025.17,301.57 L1026.63,301.50 L1028.08,301.42 L1029.54,301.32 L1031.00,301.21 L1032.46,301.09 L1033.92,300.95 L1035.38,300.80 L1036.84,300.64 L1038.30,300.46 L1039.76,300.27 L1041.22,300.07 L1042.67,299.85 L1044.13,299.62 L1045.59,299.38 L1047.05,299.12 L1048.51,298.85 L1049.97,298.57 L1051.43,298.28 L1052.89,297.97 L1054.35,297.65 L1055.81,297.32 L1057.27,296.98 L1058.72,296.62 L1060.18,296.26 L1061.64,295.88 L1063.10,295.49 L1064.56,295.09 L1066.02,294.67 L1067.48,294.25 L1068.94,293.81 L1070.40,293.36 L1071.86,292.91 L1073.32,292.44 L1074.77,291.96 L1076.23,291.47 L1077.69,290.97 L1079.15,290.46 L1080.61,289.94 L1082.07,289.41 L1083.53,288.87 L1084.99,288.33 L1086.45,287.77 L1087.91,287.20 L1089.37,286.63 L1090.82,286.05 L1092.28,285.46 L1093.74,284.86 L1095.20,284.25 L1096.66,283.64 L1098.12,283.02 L1099.58,282.39 L1101.04,281.75 L1102.50,281.11 L1103.96,280.46 L1105.42,279.81 L1106.87,279.15 L1108.33,278.48 L1109.79,277.81 L1111.25,277.13 L1112.71,276.45 L1114.17,275.76 L1115.63,275.07 L1117.09,274.38 L1118.55,273.68 L1120.01,272.97 L1121.46,272.26 L1122.92,271.55 L1124.38,270.84 L1125.84,270.12 L1127.30,269.40 L1128.76,268.68 L1130.22,267.96 L1131.68,267.23 L1133.14,266.50 L1134.60,265.77 L1136.06,265.04 L1137.51,264.31 L1138.97,263.58 L1140.43,262.85 L1141.89,262.12 L1143.35,261.40 L1144.81,260.68 L1146.27,259.97 L1147.73,259.27 L1149.19,258.58 L1150.65,257.89 L1152.11,257.22 L1153.56,256.55 L1155.02,255.89 L1156.48,255.24 L1157.94,254.61 L1159.40,253.98 L1160.86,253.36 L1162.32,252.76 L1163.78,252.16 L1165.24,251.58 L1166.70,251.01 L1168.16,250.45 L1169.61,249.90 L1171.07,249.37 L1172.53,248.84 L1173.99,248.33 L1175.45,247.84 L1176.91,247.35 L1178.37,246.88 L1179.83,246.41 L1181.29,245.97 L1182.75,245.53 L1184.21,245.11 L1185.66,244.69 L1187.12,244.30 L1188.58,243.91 L1190.04,243.53 L1191.50,243.17 L1192.96,242.82 L1194.42,242.48 L1195.88,242.16 L1197.34,241.84 L1198.80,241.54 L1200.25,241.25 L1201.71,240.96 L1203.17,240.69 L1204.63,240.44 L1206.09,240.19 L1207.55,239.95 L1209.01,239.72 L1210.47,239.51 L1211.93,239.30 L1213.39,239.10 L1214.85,238.91 L1216.30,238.74 L1217.76,238.57 L1219.22,238.41 L1220.68,238.26 L1222.14,238.11 L1223.60,237.98" stroke="#ff0000"/>
<g fill="#ff0000" stroke="none"><circle cx="60.00" cy="373.30" r="3.85"/><circle cx="74.30" cy="373.20" r="3.85"/><circle cx="88.30" cy="372.80" r="3.85"/><circle cx="102.10" cy="370.30" r="3.85"/><circle cx="114.20" cy="364.10" r="3.85"/><circle cx="125.00" cy="355.50" r="3.85"/><circle cx="135.00" cy="345.10" r="3.85"/><circle cx="144.30" cy="333.70" r="3.85"/><circle cx="153.10" cy="322.40" r="3.85"/><circle cx="161.60" cy="310.40" r="3.85"/><circle cx="170.00" cy="299.20" r="3.85"/><circle cx="178.20" cy="287.70" r="3.85"/><circle cx="187.20" cy="276.60" r="3.85"/><circle cx="196.00" cy="265.10" r="3.85"/><circle cx="204.75" cy="253.30" r="3.85"/><circle cx="214.00" cy="242.00" r="3.85"/><circle cx="223.50" cy="231.40" r="3.85"/><circle cx="232.90" cy="220.70" r="3.85"/><circle cx="242.60" cy="210.30" r="3.85"/><circle cx="253.00" cy="199.70" r="3.85"/><circle cx="263.90" cy="189.70" r="3.85"/><circle cx="275.30" cy="179.90" r="3.85"/><circle cx="287.80" cy="172.40" r="3.85"/><circle cx="300.70" cy="165.70" r="3.85"/><circle cx="314.40" cy="159.90" r="3.85"/><circle cx="328.30" cy="155.50" r="3.85"/><circle cx="342.10" cy="152.00" r="3.85"/><circle cx="356.40" cy="149.50" r="3.85"/><circle cx="370.75" cy="148.25" r="3.85"/><circle cx="385.00" cy="147.75" r="3.85"/><circle cx="399.25" cy="148.50" r="3.85"/><circle cx="413.50" cy="150.00" r="3.85"/><circle cx="427.50" cy="152.00" r="3.85"/><circle cx="441.50" cy="155.50" r="3.85"/><circle cx="455.25" cy="159.50" r="3.85"/><circle cx="468.75" cy="163.75" r="3.85"/><circle cx="482.00" cy="168.75" r="3.85"/><circle cx="495.25" cy="174.00" r="3.85"/><circle cx="508.25" cy="179.50" r="3.85"/><circle cx="521.00" cy="186.00" r="3.85"/><circle cx="533.75" cy="192.25" r="3.85"/><circle cx="546.75" cy="199.00" r="3.85"/><circle cx="559.50" cy="205.50" r="3.85"/><circle cx="572.00" cy="212.25" r="3.85"/><circle cx="584.50" cy="219.00" r="3.85"/><circle cx="597.00" cy="226.25" r="3.85"/><circle cx="609.50" cy="233.00" r="3.85"/><circle cx="621.75" cy="240.00" r="3.85"/><circle cx="634.50" cy="247.50" r="3.85"/><circle cx="647.50" cy="254.70" r="3.85"/><circle cx="660.10" cy="262.20" r="3.85"/><circle cx="672.30" cy="269.80" r="3.85"/><circle cx="686.60" cy="274.20" r="3.85"/><circle cx="698.90" cy="271.10" r="3.85"/><circle cx="709.60" cy="261.10" r="3.85"/><circle cx="718.60" cy="249.60" r="3.85"/><circle cx="727.40" cy="237.60" r="3.85"/><circle cx="736.00" cy="226.50" r="3.85"/><circle cx="745.50" cy="215.50" r="3.85"/><circle cx="756.00" cy="206.00" r="3.85"/><circle cx="768.75" cy="197.50" r="3.85"/><circle cx="781.75" cy="190.25" r="3.85"/><circle cx="795.25" cy="184.75" r="3.85"/><circle cx="809.25" cy="180.25" r="3.85"/><circle cx="823.25" cy="176.75" r="3.85"/><circle cx="837.25" cy="174.50" r="3.85"/><circle cx="851.75" cy="173.25" r="3.85"/><circle cx="866.00" cy="173.25" r="3.85"/><circle cx="880.25" cy="173.75" r="3.85"/><circle cx="894.50" cy="175.25" r="3.85"/><circle cx="908.50" cy="177.75" r="3.85"/><circle cx="922.50" cy="181.00" r="3.85"/><circle cx="936.40" cy="185.10" r="3.85"/><circle cx="950.00" cy="189.70" r="3.85"/><circle cx="963.20" cy="194.60" r="3.85"/><circle cx="976.70" cy="200.10" r="3.85"/><circle cx="989.80" cy="206.00" r="3.85"/><circle cx="1002.70" cy="211.80" r="3.85"/><circle cx="1015.30" cy="217.60" r="3.85"/><circle cx="1028.20" cy="224.40" r="3.85"/><circle cx="1041.10" cy="231.00" r="3.85"/><circle cx="1053.80" cy="237.80" r="3.85"/><circle cx="1066.40" cy="244.30" r="3.85"/><circle cx="1078.90" cy="251.00" r="3.85"/><circle cx="1091.90" cy="257.60" r="3.85"/><circle cx="1104.30" cy="264.50" r="3.85"/><circle cx="1117.10" cy="271.40" r="3.85"/><circle cx="1130.00" cy="278.60" r="3.85"/><circle cx="1144.40" cy="281.00" r="3.85"/><circle cx="1156.70" cy="276.90" r="3.85"/><circle cx="1167.30" cy="268.50" r="3.85"/><circle cx="1178.00" cy="258.40" r="3.85"/><circle cx="1188.40" cy="248.00" r="3.85"/><circle cx="1200.00" cy="237.50" r="3.85"/><circle cx="1212.00" cy="229.70" r="3.85"/></g>
<g stroke="none"><path d="M57.80,400.85 L57.80,372.61 L59.45,372.59 L61.09,372.53 L62.74,372.42 L64.38,372.27 L66.03,372.08 L67.67,371.85 L69.32,371.58 L70.96,371.26 L72.61,370.91 L74.25,370.51 L75.90,370.07 L77.54,369.58 L79.19,369.06 L80.83,368.50 L82.48,367.89 L84.12,367.25 L85.77,366.56 L87.41,365.84 L89.06,365.07 L90.70,364.27 L92.35,363.43 L93.99,362.54 L95.64,361.62 L97.28,360.67 L98.93,359.67 L100.57,358.64 L102.22,357.57 L103.86,356.46 L105.51,355.32 L107.15,354.14 L108.80,352.93 L110.45,351.68 L112.09,350.40 L113.74,349.08 L115.38,347.73 L117.03,346.35 L118.67,344.94 L120.32,343.49 L121.96,342.01 L123.61,340.51 L125.25,338.97 L126.90,337.40 L128.54,335.81 L130.19,334.18 L131.83,332.53 L133.48,330.86 L135.12,329.15 L136.77,327.42 L138.41,325.67 L140.06,323.89 L141.70,322.09 L143.35,320.27 L144.99,318.42 L146.64,316.55 L148.28,314.66 L149.93,312.75 L151.57,310.83 L153.22,308.88 L154.86,306.92 L156.51,304.93 L158.15,302.94 L159.80,300.92 L161.45,298.90 L163.09,296.86 L164.74,294.80 L166.38,292.73 L168.03,290.66 L169.67,288.57 L171.32,286.47 L172.96,284.36 L174.61,282.24 L176.25,280.12 L177.90,277.99 L179.54,275.85 L181.19,273.71 L182.83,271.57 L184.48,269.42 L186.12,267.27 L187.77,265.11 L189.41,262.96 L191.06,260.81 L192.70,258.67 L194.35,256.53 L195.99,254.41 L197.64,252.29 L199.28,250.19 L200.93,248.11 L202.57,246.04 L204.22,243.98 L205.86,241.94 L207.51,239.92 L209.15,237.92 L210.80,235.94 L212.45,233.97 L214.09,232.04 L215.74,230.12 L217.38,228.23 L219.03,226.36 L220.67,224.52 L222.32,222.70 L223.96,220.91 L225.61,219.15 L227.25,217.41 L228.90,215.71 L230.54,214.03 L232.19,212.39 L233.83,210.77 L235.48,209.19 L237.12,207.64 L238.77,206.12 L240.41,204.63 L242.06,203.18 L243.70,201.76 L245.35,200.37 L246.99,199.02 L248.64,197.71 L250.28,196.43 L251.93,195.18 L253.57,193.97 L255.22,192.80 L256.86,191.66 L258.51,190.56 L260.15,189.49 L261.80,188.46 L261.80,400.85 Z" fill="rgba(255,0,0,0.4)"/><path d="M666.20,400.85 L666.20,267.78 L667.87,266.34 L669.54,264.91 L671.20,263.47 L672.87,262.03 L674.54,260.60 L676.21,259.18 L677.88,257.77 L679.55,256.36 L681.21,254.97 L682.88,253.59 L684.55,252.23 L686.22,250.87 L687.89,249.54 L689.55,248.21 L691.22,246.91 L692.89,245.62 L694.56,244.35 L696.23,243.09 L697.90,241.86 L699.56,240.65 L701.23,239.45 L702.90,238.28 L704.57,237.13 L706.24,236.00 L707.90,234.89 L709.57,233.81 L711.24,232.75 L712.91,231.71 L714.58,230.70 L716.25,229.71 L717.91,228.75 L719.58,227.81 L721.25,226.89 L722.92,226.01 L724.59,225.14 L726.25,224.30 L727.92,223.49 L729.59,222.71 L731.26,221.95 L732.93,221.21 L734.60,220.50 L736.26,219.82 L737.93,219.17 L739.60,218.54 L739.60,400.85 Z" fill="rgba(255,0,0,0.4)"/><path d="M1116.60,400.85 L1116.60,274.61 L1118.28,273.80 L1119.96,272.99 L1121.64,272.18 L1123.33,271.36 L1125.01,270.53 L1126.69,269.70 L1128.37,268.87 L1130.05,268.04 L1131.73,267.20 L1133.41,266.37 L1135.10,265.53 L1136.78,264.68 L1138.46,263.84 L1140.14,263.00 L1141.82,262.16 L1143.50,261.33 L1145.18,260.50 L1146.87,259.69 L1148.55,258.88 L1150.23,258.09 L1151.91,257.31 L1153.59,256.54 L1155.27,255.78 L1156.95,255.04 L1158.63,254.31 L1160.32,253.59 L1162.00,252.89 L1163.68,252.20 L1165.36,251.53 L1167.04,250.88 L1168.72,250.23 L1170.40,249.61 L1172.09,249.00 L1173.77,248.41 L1175.45,247.84 L1177.13,247.28 L1178.81,246.73 L1180.49,246.21 L1182.17,245.70 L1183.86,245.21 L1185.54,244.73 L1187.22,244.27 L1188.90,243.83 L1188.90,400.85 Z" fill="rgba(255,0,0,0.4)"/><path d="M396.00,400.85 L396.00,301.66 L397.68,299.95 L399.36,298.23 L401.05,296.49 L402.73,294.73 L404.41,292.97 L406.09,291.18 L407.78,289.39 L409.46,287.58 L411.14,285.76 L412.82,283.93 L414.50,282.09 L416.19,280.25 L417.87,278.39 L419.55,276.53 L421.23,274.66 L422.92,272.78 L424.60,270.91 L426.28,269.02 L427.96,267.14 L429.64,265.25 L431.33,263.36 L433.01,261.48 L434.69,259.60 L436.37,257.74 L438.06,255.90 L439.74,254.08 L441.42,252.27 L443.10,250.48 L444.78,248.71 L446.47,246.97 L448.15,245.25 L449.83,243.55 L451.51,241.87 L453.20,240.23 L454.88,238.61 L456.56,237.01 L458.24,235.45 L459.92,233.91 L461.61,232.40 L463.29,230.93 L464.97,229.48 L466.65,228.06 L468.34,226.68 L470.02,225.33 L471.70,224.01 L471.70,400.85 Z" fill="rgba(0,0,255,0.4)"/><path d="M901.00,400.85 L901.00,265.84 L902.67,264.72 L904.34,263.60 L906.01,262.48 L907.69,261.36 L909.36,260.25 L911.03,259.15 L912.70,258.05 L914.37,256.97 L916.04,255.90 L917.71,254.84 L919.39,253.80 L921.06,252.77 L922.73,251.75 L924.40,250.74 L926.07,249.75 L927.74,248.78 L929.41,247.82 L931.09,246.88 L932.76,245.96 L934.43,245.05 L936.10,244.16 L937.77,243.29 L939.44,242.44 L941.11,241.61 L942.79,240.79 L944.46,240.00 L946.13,239.22 L947.80,238.47 L949.47,237.73 L951.14,237.02 L952.81,236.32 L954.49,235.64 L956.16,234.99 L957.83,234.35 L959.50,233.74 L961.17,233.14 L962.84,232.57 L964.51,232.02 L966.19,231.48 L967.86,230.97 L969.53,230.47 L971.20,230.00 L971.20,400.85 Z" fill="rgba(0,0,255,0.4)"/></g>
<path d="M57.80,372.61 L59.45,372.59 L61.09,372.53 L62.74,372.42 L64.38,372.27 L66.03,372.08 L67.67,371.85 L69.32,371.58 L70.96,371.26 L72.61,370.91 L74.25,370.51 L75.90,370.07 L77.54,369.58 L79.19,369.06 L80.83,368.50 L82.48,367.89 L84.12,367.25 L85.77,366.56 L87.41,365.84 L89.06,365.07 L90.70,364.27 L92.35,363.43 L93.99,362.54 L95.64,361.62 L97.28,360.67 L98.93,359.67 L100.57,358.64 L102.22,357.57 L103.86,356.46 L105.51,355.32 L107.15,354.14 L108.80,352.93 L110.45,351.68 L112.09,350.40 L113.74,349.08 L115.38,347.73 L117.03,346.35 L118.67,344.94 L120.32,343.49 L121.96,342.01 L123.61,340.51 L125.25,338.97 L126.90,337.40 L128.54,335.81 L130.19,334.18 L131.83,332.53 L133.48,330.86 L135.12,329.15 L136.77,327.42 L138.41,325.67 L140.06,323.89 L141.70,322.09 L143.35,320.27 L144.99,318.42 L146.64,316.55 L148.28,314.66 L149.93,312.75 L151.57,310.83 L153.22,308.88 L154.86,306.92 L156.51,304.93 L158.15,302.94 L159.80,300.92 L161.45,298.90 L163.09,296.86 L164.74,294.80 L166.38,292.73 L168.03,290.66 L169.67,288.57 L171.32,286.47 L172.96,284.36 L174.61,282.24 L176.25,280.12 L177.90,277.99 L179.54,275.85 L181.19,273.71 L182.83,271.57 L184.48,269.42 L186.12,267.27 L187.77,265.11 L189.41,262.96 L191.06,260.81 L192.70,258.67 L194.35,256.53 L195.99,254.41 L197.64,252.29 L199.28,250.19 L200.93,248.11 L202.57,246.04 L204.22,243.98 L205.86,241.94 L207.51,239.92 L209.15,237.92 L210.80,235.94 L212.45,233.97 L214.09,232.04 L215.74,230.12 L217.38,228.23 L219.03,226.36 L220.67,224.52 L222.32,222.70 L223.96,220.91 L225.61,219.15 L227.25,217.41 L228.90,215.71 L230.54,214.03 L232.19,212.39 L233.83,210.77 L235.48,209.19 L237.12,207.64 L238.77,206.12 L240.41,204.63 L242.06,203.18 L243.70,201.76 L245.35,200.37 L246.99,199.02 L248.64,197.71 L250.28,196.43 L251.93,195.18 L253.57,193.97 L255.22,192.80 L256.86,191.66 L258.51,190.56 L260.15,189.49 L261.80,188.46" stroke="#ff0000"/><path d="M666.20,267.78 L667.87,266.34 L669.54,264.91 L671.20,263.47 L672.87,262.03 L674.54,260.60 L676.21,259.18 L677.88,257.77 L679.55,256.36 L681.21,254.97 L682.88,253.59 L684.55,252.23 L686.22,250.87 L687.89,249.54 L689.55,248.21 L691.22,246.91 L692.89,245.62 L694.56,244.35 L696.23,243.09 L697.90,241.86 L699.56,240.65 L701.23,239.45 L702.90,238.28 L704.57,237.13 L706.24,236.00 L707.90,234.89 L709.57,233.81 L711.24,232.75 L712.91,231.71 L714.58,230.70 L716.25,229.71 L717.91,228.75 L719.58,227.81 L721.25,226.89 L722.92,226.01 L724.59,225.14 L726.25,224.30 L727.92,223.49 L729.59,222.71 L731.26,221.95 L732.93,221.21 L734.60,220.50 L736.26,219.82 L737.93,219.17 L739.60,218.54" stroke="#ff0000"/><path d="M1116.60,274.61 L1118.28,273.80 L1119.96,272.99 L1121.64,272.18 L1123.33,271.36 L1125.01,270.53 L1126.69,269.70 L1128.37,268.87 L1130.05,268.04 L1131.73,267.20 L1133.41,266.37 L1135.10,265.53 L1136.78,264.68 L1138.46,263.84 L1140.14,263.00 L1141.82,262.16 L1143.50,261.33 L1145.18,260.50 L1146.87,259.69 L1148.55,258.88 L1150.23,258.09 L1151.91,257.31 L1153.59,256.54 L1155.27,255.78 L1156.95,255.04 L1158.63,254.31 L1160.32,253.59 L1162.00,252.89 L1163.68,252.20 L1165.36,251.53 L1167.04,250.88 L1168.72,250.23 L1170.40,249.61 L1172.09,249.00 L1173.77,248.41 L1175.45,247.84 L1177.13,247.28 L1178.81,246.73 L1180.49,246.21 L1182.17,245.70 L1183.86,245.21 L1185.54,244.73 L1187.22,244.27 L1188.90,243.83" stroke="#ff0000"/><path d="M396.00,301.66 L397.68,299.95 L399.36,298.23 L401.05,296.49 L402.73,294.73 L404.41,292.97 L406.09,291.18 L407.78,289.39 L409.46,287.58 L411.14,285.76 L412.82,283.93 L414.50,282.09 L416.19,280.25 L417.87,278.39 L419.55,276.53 L421.23,274.66 L422.92,272.78 L424.60,270.91 L426.28,269.02 L427.96,267.14 L429.64,265.25 L431.33,263.36 L433.01,261.48 L434.69,259.60 L436.37,257.74 L438.06,255.90 L439.74,254.08 L441.42,252.27 L443.10,250.48 L444.78,248.71 L446.47,246.97 L448.15,245.25 L449.83,243.55 L451.51,241.87 L453.20,240.23 L454.88,238.61 L456.56,237.01 L458.24,235.45 L459.92,233.91 L461.61,232.40 L463.29,230.93 L464.97,229.48 L466.65,228.06 L468.34,226.68 L470.02,225.33 L471.70,224.01" stroke="#0000ff"/><path d="M901.00,265.84 L902.67,264.72 L904.34,263.60 L906.01,262.48 L907.69,261.36 L909.36,260.25 L911.03,259.15 L912.70,258.05 L914.37,256.97 L916.04,255.90 L917.71,254.84 L919.39,253.80 L921.06,252.77 L922.73,251.75 L924.40,250.74 L926.07,249.75 L927.74,248.78 L929.41,247.82 L931.09,246.88 L932.76,245.96 L934.43,245.05 L936.10,244.16 L937.77,243.29 L939.44,242.44 L941.11,241.61 L942.79,240.79 L944.46,240.00 L946.13,239.22 L947.80,238.47 L949.47,237.73 L951.14,237.02 L952.81,236.32 L954.49,235.64 L956.16,234.99 L957.83,234.35 L959.50,233.74 L961.17,233.14 L962.84,232.57 L964.51,232.02 L966.19,231.48 L967.86,230.97 L969.53,230.47 L971.20,230.00" stroke="#0000ff"/>
</g>
<g font-size="32" fill="#000">
<text x="413" y="358.7" font-weight="bold" font-style="italic">t<tspan dy="8.2" font-size="21">d</tspan><tspan font-style="normal" font-size="21">1</tspan></text>
<text x="691.6" y="359.6" font-weight="bold" font-style="italic">t<tspan dy="8.8" font-size="21">d</tspan><tspan font-style="normal" font-size="21">2</tspan></text>
<text x="922.7" y="360.8" font-weight="bold" font-style="italic">t<tspan dy="8.4" font-size="21">d</tspan><tspan font-style="normal" font-size="21">1</tspan></text>
<text x="1143.1" y="363.2" font-weight="bold" font-style="italic">t<tspan dy="8.8" font-size="21">d</tspan><tspan font-style="normal" font-size="21">2</tspan></text>
</g>
<rect x="57.65" y="11.75" width="1165.95" height="376.85" fill="none" stroke="#000" stroke-width="5.3"/>
<g stroke="#000" stroke-width="5.2"><line x1="252.10" y1="388.6" x2="252.10" y2="376.3"/><line x1="252.10" y1="11.8" x2="252.10" y2="23.4"/><line x1="446.40" y1="388.6" x2="446.40" y2="376.3"/><line x1="446.40" y1="11.8" x2="446.40" y2="23.4"/><line x1="640.70" y1="388.6" x2="640.70" y2="376.3"/><line x1="640.70" y1="11.8" x2="640.70" y2="23.4"/><line x1="835.00" y1="388.6" x2="835.00" y2="376.3"/><line x1="835.00" y1="11.8" x2="835.00" y2="23.4"/><line x1="1029.30" y1="388.6" x2="1029.30" y2="376.3"/><line x1="1029.30" y1="11.8" x2="1029.30" y2="23.4"/><line x1="57.6" y1="137.30" x2="70.0" y2="137.30"/><line x1="1223.6" y1="137.30" x2="1211.3" y2="137.30"/><line x1="57.6" y1="262.80" x2="70.0" y2="262.80"/><line x1="1223.6" y1="262.80" x2="1211.3" y2="262.80"/><line x1="57.6" y1="74.55" x2="63.8" y2="74.55"/><line x1="1223.6" y1="74.55" x2="1217.6" y2="74.55"/><line x1="57.6" y1="200.05" x2="63.8" y2="200.05"/><line x1="1223.6" y1="200.05" x2="1217.6" y2="200.05"/><line x1="57.6" y1="325.55" x2="63.8" y2="325.55"/><line x1="1223.6" y1="325.55" x2="1217.6" y2="325.55"/></g>
<!-- legend -->
<g stroke-linecap="round" stroke-width="5.0">
<line x1="76.4" y1="33.6" x2="120.0" y2="33.6" stroke="#0000ff"/>
<line x1="76.4" y1="79.0" x2="120.0" y2="79.0" stroke="#ff0000"/>
</g>
<g fill="#0000ff"><circle cx="204.4" cy="33.6" r="3.85"/><circle cx="218.6" cy="33.6" r="3.85"/><circle cx="233.0" cy="33.6" r="3.85"/><circle cx="247.1" cy="33.6" r="3.85"/></g>
<g fill="#ff0000"><circle cx="204.4" cy="79.0" r="3.85"/><circle cx="218.6" cy="79.0" r="3.85"/><circle cx="233.0" cy="79.0" r="3.85"/><circle cx="247.1" cy="79.0" r="3.85"/></g>
<rect x="318.8" y="24.4" width="40.5" height="17.6" fill="rgba(0,0,255,0.4)"/><rect x="317.4" y="23.0" width="43.3" height="20.4" fill="none" stroke="rgba(0,0,255,0.62)" stroke-width="2.8"/>
<rect x="318.8" y="70.6" width="40.5" height="17.5" fill="rgba(255,0,0,0.4)"/><rect x="317.4" y="69.2" width="43.3" height="20.4" fill="none" stroke="rgba(255,0,0,0.62)" stroke-width="2.8"/>
<g font-size="32" fill="#000">
<text x="129.6" y="44.7" font-style="italic">y</text><text x="143.3" y="52.9" font-style="italic" font-size="22.5">b</text><text x="153.3" y="52.9" font-size="22.5">1</text>
<text x="129.6" y="90.1" font-style="italic">y</text><text x="143.3" y="98.3" font-style="italic" font-size="22.5">b</text><text x="153.3" y="98.3" font-size="22.5">2</text>
<text x="257.9" y="44.7" font-style="italic">y</text><text x="272.1" y="52.9" font-style="italic" font-size="22.5">p</text><text x="283.0" y="52.9" font-size="22.5">1</text>
<text x="257.9" y="90.1" font-style="italic">y</text><text x="272.1" y="98.3" font-style="italic" font-size="22.5">p</text><text x="283.0" y="98.3" font-size="22.5">2</text>
<text x="371.2" y="43.9" font-size="31.5">Left cable tensioned</text>
<text x="371.2" y="89.9" font-size="31.5">Right cable tensioned</text>
<g font-size="32.5">
<text x="892.6" y="53.9" font-style="italic">A</text>
<text x="910.9" y="61.9" font-style="italic" font-size="21.5">p</text>
<text x="920.2" y="53.9">=</text><text x="937.9" y="53.9">2</text><text x="952.2" y="53.9">5</text><text x="978.0" y="53.9">m</text>
<text x="1002.4" y="39.9" font-size="21.5">2</text>
<text x="1013.7" y="53.9">,</text>
<text x="1030.1" y="53.9" font-style="italic">m</text>
<text x="1052.3" y="61.9" font-style="italic" font-size="21.5">p</text>
<text x="1062.2" y="53.9">=</text><text x="1079.3" y="53.9">7.5</text><text x="1120.3" y="53.9">×</text><text x="1138.4" y="53.9">1</text><text x="1152.4" y="53.9">0</text>
<text x="1167.9" y="39.9" font-size="21.5">3</text>
<text x="1188.3" y="53.9">kg</text>
</g>
<g font-size="33">
<text x="57.80" y="427" text-anchor="middle">0</text><text x="252.10" y="427" text-anchor="middle">2</text><text x="446.40" y="427" text-anchor="middle">4</text><text x="640.70" y="427" text-anchor="middle">6</text><text x="835.00" y="427" text-anchor="middle">8</text><text x="1029.30" y="427" text-anchor="middle">10</text><text x="1223.60" y="427" text-anchor="middle">12</text>
<text x="43.8" y="21.3" text-anchor="end">4</text>
<text x="44.9" y="147.2" text-anchor="end">2</text>
<text x="44.8" y="272.6" text-anchor="end">0</text>
<text x="44.6" y="398.8" text-anchor="end">-2</text>
</g>
<text x="647.3" y="459.4" text-anchor="middle"><tspan font-style="italic">t</tspan> (s)</text>
<text transform="translate(22.3,203.0) rotate(-90)" text-anchor="middle"><tspan font-style="italic">y</tspan> (m)</text>
</g>
</svg>
</body></html>
